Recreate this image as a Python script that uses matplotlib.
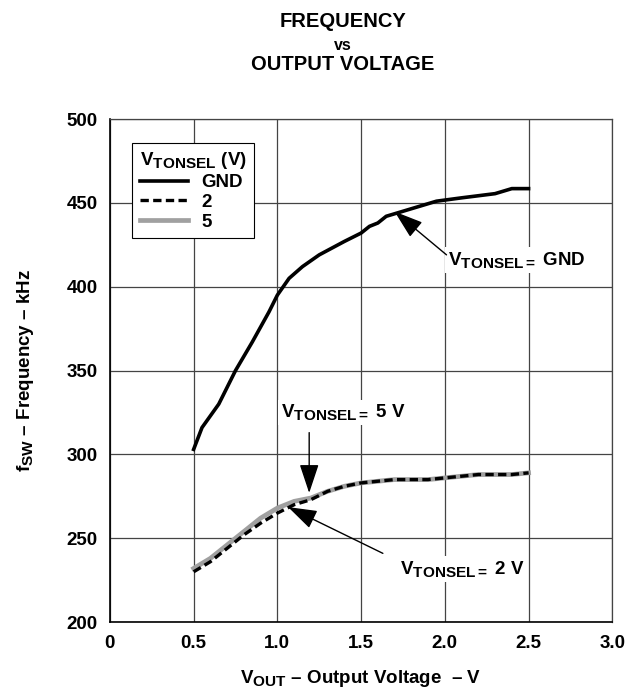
import numpy as np
import matplotlib
matplotlib.use('Agg')
import matplotlib.pyplot as plt
import matplotlib._mathtext as mt

# subscripts in the original are nearly full size
mt.SHRINK_FACTOR = 0.82

plt.rcParams['font.family'] = ['Liberation Sans', 'DejaVu Sans']
plt.rcParams['font.weight'] = 'bold'
plt.rcParams['axes.labelweight'] = 'bold'
plt.rcParams['mathtext.fontset'] = 'custom'
plt.rcParams['mathtext.rm'] = 'Liberation Sans:bold'
plt.rcParams['mathtext.bf'] = 'Liberation Sans:bold'
plt.rcParams['mathtext.it'] = 'Liberation Sans:bold'

# data
v_gnd = [0.5, 0.55, 0.65, 0.75, 0.85, 0.95, 1.0, 1.07, 1.15, 1.25, 1.4, 1.5, 1.55, 1.6, 1.65,
         1.75, 1.85, 1.95, 2.1, 2.3, 2.4, 2.5]
f_gnd = [303, 316, 330, 350, 367, 385, 395, 405, 412, 419, 427, 432, 436, 438, 442,
         445, 448, 451, 453, 455.5, 458.5, 458.5]

v_low = [0.5, 0.6, 0.7, 0.8, 0.9, 1.0, 1.1, 1.2, 1.3, 1.4, 1.5, 1.6, 1.7, 1.8, 1.9,
         2.0, 2.1, 2.2, 2.3, 2.4, 2.5]
f_5 = [232, 238, 246, 254, 262, 268, 272, 274, 278, 281, 283, 284, 285, 285, 285,
       286, 287, 288, 288, 288, 289]
f_2 = [230, 236, 244, 252, 259, 265, 270, 273, 278, 281, 283, 284, 285, 285, 285,
       286, 287, 288, 288, 288, 289]

x_ticks = [0, 0.5, 1.0, 1.5, 2.0, 2.5, 3.0]
x_labels = ['0', '0.5', '1.0', '1.5', '2.0', '2.5', '3.0']
y_ticks = [200, 250, 300, 350, 400, 450, 500]

FS = 13.5

fig = plt.figure(figsize=(6.28, 6.92), dpi=100)
ax = fig.add_axes([0.175, 0.101, 0.8, 0.727])

ax.plot(v_gnd, f_gnd, color='black', lw=2.6, label='GND', zorder=3)
ax.plot(v_low, f_5, color='#a0a0a0', lw=3.4, label='5', zorder=3)
ax.plot(v_low, f_2, color='black', lw=2.4, ls=(0, (2.5, 1.3)), label='2', zorder=4)

ax.set_xlim(0, 3.0)
ax.set_ylim(200, 500)
ax.set_xticks(x_ticks)
ax.set_xticklabels(x_labels)
ax.set_yticks(y_ticks)
ax.tick_params(length=0, labelsize=FS, pad=9)
ax.grid(True, color='#444444', lw=0.9)
for s in ax.spines.values():
    s.set_color('#444444')
    s.set_linewidth(0.9)
ax.spines['left'].set_color('black')
ax.spines['bottom'].set_color('black')
ax.spines['left'].set_linewidth(1.2)
ax.spines['bottom'].set_linewidth(1.2)

ax.set_xlabel(r'$\mathbf{V_{OUT}}$ – Output Voltage  – V', fontsize=FS, labelpad=12)
ax.set_ylabel(r'$\mathbf{f_{SW}}$ – Frequency – kHz', fontsize=FS, labelpad=22)

fig.text(0.546, 0.961, 'FREQUENCY', ha='center', va='baseline', fontsize=14.5)
fig.text(0.546, 0.928, 'vs', ha='center', va='baseline', fontsize=11.5)
fig.text(0.546, 0.899, 'OUTPUT VOLTAGE', ha='center', va='baseline', fontsize=14.5)

# legend
h, l = ax.get_legend_handles_labels()
order = [0, 2, 1]
leg = ax.legend([h[i] for i in order], [l[i] for i in order],
                title=r'$\mathbf{V_{TONSEL}}$ (V)', loc='upper left',
                bbox_to_anchor=(0.044, 0.953), fontsize=FS, title_fontsize=FS,
                frameon=True, fancybox=False, edgecolor='black', framealpha=1,
                handlelength=2.6, handletextpad=0.7, borderpad=0.4, labelspacing=0.15,
                borderaxespad=0)
leg.get_frame().set_linewidth(0.8)
leg._legend_box.align = 'left'

box = dict(facecolor='white', edgecolor='none', pad=2)
tag = r'$\mathbf{V_{TONSEL=}}\;$'
ax.text(2.02, 416, tag + 'GND', fontsize=FS, ha='left', va='center', bbox=box, zorder=5)
ax.text(1.02, 325, tag + '5 V', fontsize=FS, ha='left', va='center', bbox=box, zorder=5)
ax.text(1.73, 231.5, tag + '2 V', fontsize=FS, ha='left', va='center', bbox=box, zorder=5)

arr = dict(arrowstyle='-|>,head_length=1.2,head_width=0.4', color='black', lw=1.0,
           mutation_scale=15, shrinkA=0, shrinkB=0)
ax.annotate('', xy=(1.70, 444.8), xytext=(2.01, 419), arrowprops=arr, zorder=6)
ax.annotate('', xy=(1.19, 277), xytext=(1.19, 313), arrowprops=arr, zorder=6)
ax.annotate('', xy=(1.064, 268.6), xytext=(1.63, 241), arrowprops=arr, zorder=6)

fig.savefig('out.png', dpi=100)
